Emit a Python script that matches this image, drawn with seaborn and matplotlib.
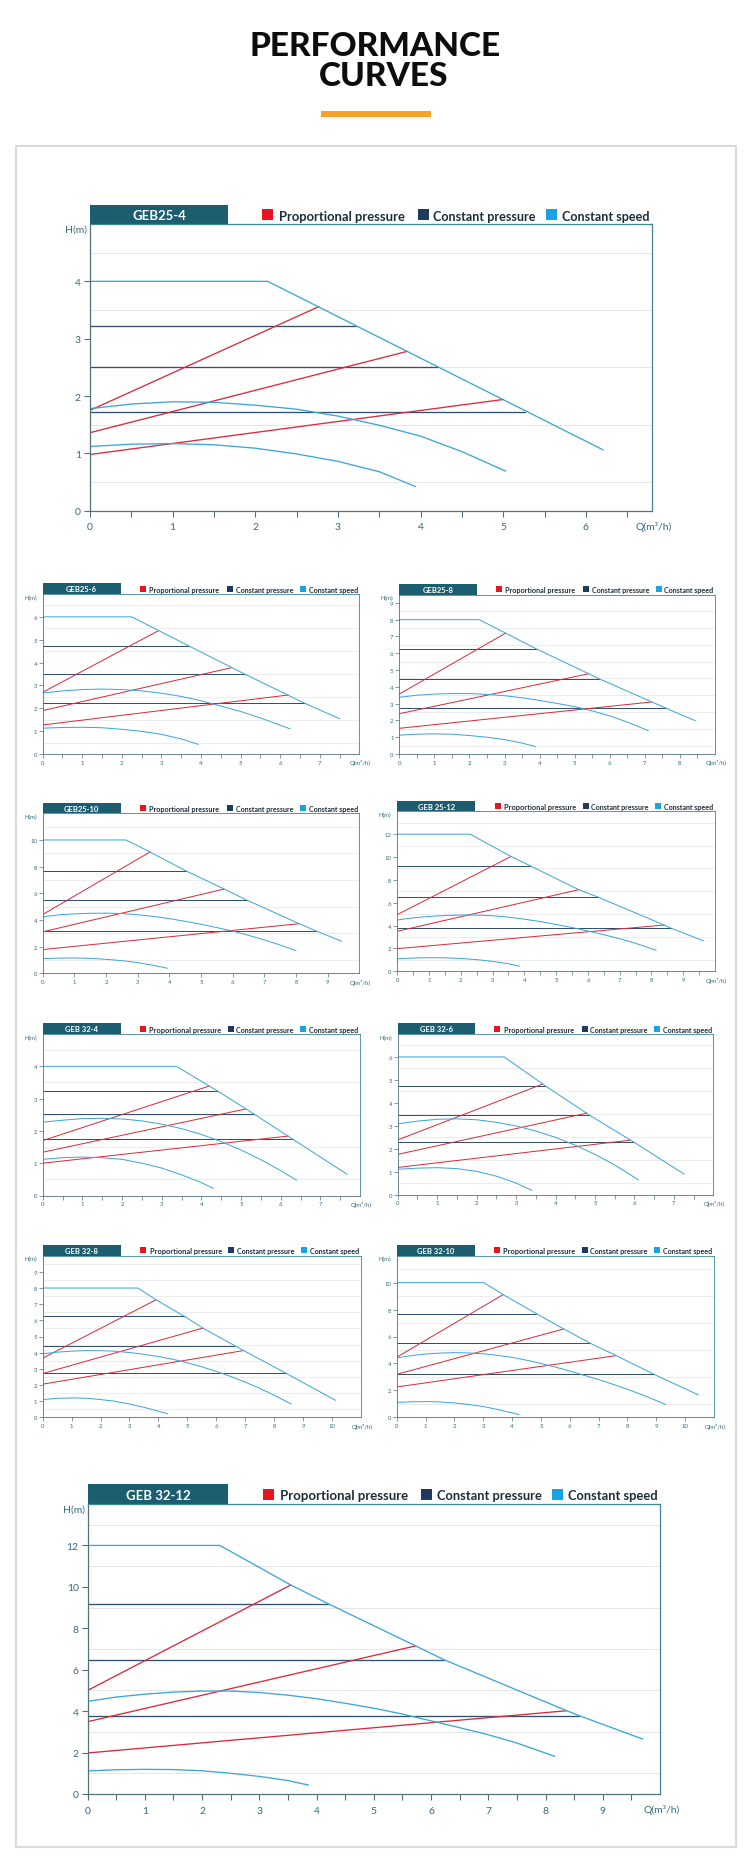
import numpy as np
import pandas as pd
import matplotlib
matplotlib.use("Agg")
import matplotlib.pyplot as plt
from matplotlib.patches import Rectangle
from matplotlib.ticker import FixedLocator
import seaborn as sns

# ------------------------------------------------------------------ data
TITLES = ["GEB25-4", "GEB25-6", "GEB25-8", "GEB25-10", "GEB 25-12",
          "GEB 32-4", "GEB 32-6", "GEB 32-8", "GEB 32-10", "GEB 32-12"]
LEGEND_LABELS = ["Proportional pressure", "Constant pressure", "Constant speed"]
Y_LABEL = "H(m)"
X_LABEL = "Q(m³/h)"

# GEB25-4
g25_4_max_q = [0, 2.15, 6.21]
g25_4_max_h = [4.0, 4.0, 1.06]
g25_4_mid_q = [0, 0.5, 1, 1.5, 2, 2.5, 3, 3.5, 4, 4.5, 5.03]
g25_4_mid_h = [1.78, 1.86, 1.90, 1.89, 1.84, 1.77, 1.65, 1.49, 1.30, 1.03, 0.69]
g25_4_low_q = [0, 0.5, 1, 1.5, 2, 2.5, 3, 3.5, 3.94]
g25_4_low_h = [1.12, 1.16, 1.17, 1.15, 1.09, 0.99, 0.86, 0.68, 0.42]
g25_4_cp_h = [3.22, 2.50, 1.72]
g25_4_cp_q = [3.22, 4.20, 5.26]
g25_4_pp_h0 = [1.75, 1.36, 0.98]
g25_4_pp_q1 = [2.77, 3.84, 5.00]
g25_4_pp_h1 = [3.56, 2.78, 1.94]

# GEB25-6
g25_6_max_q = [0, 2.25, 3.69, 5.1, 6.62, 7.51]
g25_6_max_h = [6, 6, 4.73, 3.5, 2.22, 1.54]
g25_6_mid_q = [0, 0.5, 1, 1.5, 2, 2.5, 3, 3.5, 4, 4.5, 5, 5.5, 6.25]
g25_6_mid_h = [2.67, 2.76, 2.82, 2.84, 2.82, 2.76, 2.66, 2.52, 2.33, 2.10, 1.86, 1.58, 1.10]
g25_6_low_q = [0, 0.5, 1, 1.5, 2, 2.5, 3, 3.5, 3.93]
g25_6_low_h = [1.13, 1.16, 1.17, 1.15, 1.08, 0.99, 0.86, 0.66, 0.42]
g25_6_cp_h = [4.73, 3.50, 2.22]
g25_6_cp_q = [3.69, 5.10, 6.62]
g25_6_pp_h0 = [2.70, 1.90, 1.27]
g25_6_pp_q1 = [2.93, 4.78, 6.20]
g25_6_pp_h1 = [5.40, 3.78, 2.58]

# GEB25-8
g25_8_max_q = [0, 2.28, 3.9, 5.7, 7.6, 8.44]
g25_8_max_h = [8, 8, 6.27, 4.48, 2.73, 1.98]
g25_8_mid_q = [0, 0.5, 1, 1.5, 2, 2.5, 3, 3.5, 4, 4.5, 5, 5.5, 6, 6.5, 7.1]
g25_8_mid_h = [3.38, 3.50, 3.57, 3.60, 3.60, 3.55, 3.47, 3.35, 3.19, 3.01, 2.82, 2.57, 2.27, 1.90, 1.39]
g25_8_low_q = [0, 0.5, 1, 1.5, 2, 2.5, 3, 3.5, 3.89]
g25_8_low_h = [1.12, 1.18, 1.20, 1.18, 1.10, 1.00, 0.86, 0.65, 0.44]
g25_8_cp_h = [6.27, 4.48, 2.73]
g25_8_cp_q = [3.90, 5.70, 7.60]
g25_8_pp_h0 = [3.57, 2.40, 1.53]
g25_8_pp_q1 = [3.03, 5.40, 7.20]
g25_8_pp_h1 = [7.20, 4.78, 3.10]

# GEB25-10
g25_10_max_q = [0, 2.63, 3.39, 4.52, 5.73, 6.44, 8.1, 8.63, 9.44]
g25_10_max_h = [10, 10, 9.1, 7.69, 6.32, 5.5, 3.72, 3.18, 2.41]
g25_10_mid_q = [0, 0.5, 1, 1.5, 2, 2.5, 3, 3.5, 4, 4.5, 5, 5.5, 6, 6.5, 7, 7.5, 8]
g25_10_mid_h = [4.24, 4.38, 4.46, 4.50, 4.51, 4.48, 4.39, 4.27, 4.10, 3.90, 3.68, 3.43, 3.16, 2.85, 2.50, 2.12, 1.70]
g25_10_low_q = [0, 0.5, 1, 1.5, 2, 2.5, 3, 3.5, 3.94]
g25_10_low_h = [1.10, 1.14, 1.15, 1.12, 1.05, 0.95, 0.80, 0.60, 0.38]
g25_10_cp_h = [7.69, 5.50, 3.18]
g25_10_cp_q = [4.52, 6.44, 8.63]
g25_10_pp_h0 = [4.41, 3.11, 1.78]
g25_10_pp_q1 = [3.39, 5.73, 8.10]
g25_10_pp_h1 = [9.10, 6.32, 3.72]

# GEB 25-12
g25_12_max_q = [0, 2.29, 3.58, 4.2, 5.71, 6.31, 8.4, 8.6, 9.65]
g25_12_max_h = [12, 12, 10.05, 9.21, 7.14, 6.5, 4.05, 3.79, 2.65]
g25_12_mid_q = [0, 0.5, 1, 1.5, 2, 2.5, 3, 3.5, 4, 4.5, 5, 5.5, 6, 6.5, 7, 7.5, 8.15]
g25_12_mid_h = [4.49, 4.68, 4.80, 4.88, 4.92, 4.92, 4.86, 4.74, 4.56, 4.35, 4.10, 3.83, 3.53, 3.20, 2.85, 2.45, 1.84]
g25_12_low_q = [0, 0.5, 1, 1.5, 2, 2.5, 3, 3.5, 3.85]
g25_12_low_h = [1.10, 1.16, 1.19, 1.18, 1.12, 1.02, 0.87, 0.66, 0.45]
g25_12_cp_h = [9.21, 6.50, 3.79]
g25_12_cp_q = [4.20, 6.31, 8.60]
g25_12_pp_h0 = [4.96, 3.50, 1.98]
g25_12_pp_q1 = [3.58, 5.71, 8.40]
g25_12_pp_h1 = [10.05, 7.14, 4.05]

# GEB 32-4
g32_4_max_q = [0, 3.37, 4.43, 5.33, 6.31, 7.67]
g32_4_max_h = [4, 4, 3.22, 2.52, 1.74, 0.66]
g32_4_mid_q = [0, 0.5, 1, 1.5, 2, 2.5, 3, 3.5, 4, 4.5, 5, 5.5, 6, 6.4]
g32_4_mid_h = [2.27, 2.33, 2.38, 2.39, 2.37, 2.31, 2.21, 2.07, 1.89, 1.67, 1.41, 1.11, 0.77, 0.47]
g32_4_low_q = [0, 0.5, 1, 1.5, 2, 2.5, 3, 3.5, 4, 4.3]
g32_4_low_h = [1.12, 1.17, 1.19, 1.17, 1.12, 1.00, 0.85, 0.64, 0.40, 0.22]
g32_4_cp_h = [3.22, 2.52, 1.74]
g32_4_cp_q = [4.43, 5.33, 6.31]
g32_4_pp_h0 = [1.70, 1.34, 1.00]
g32_4_pp_q1 = [4.20, 5.12, 6.19]
g32_4_pp_h1 = [3.39, 2.68, 1.84]

# GEB 32-6
g32_6_max_q = [0, 2.7, 3.75, 4.87, 5.99, 7.26]
g32_6_max_h = [6, 6, 4.73, 3.45, 2.28, 0.89]
g32_6_mid_q = [0, 0.5, 1, 1.5, 2, 2.5, 3, 3.5, 4, 4.5, 5, 5.5, 6.1]
g32_6_mid_h = [3.08, 3.20, 3.28, 3.30, 3.26, 3.15, 2.99, 2.77, 2.49, 2.15, 1.75, 1.29, 0.64]
g32_6_low_q = [0, 0.5, 1, 1.5, 2, 2.5, 3, 3.4]
g32_6_low_h = [1.10, 1.15, 1.17, 1.13, 1.01, 0.80, 0.50, 0.18]
g32_6_cp_h = [4.73, 3.45, 2.28]
g32_6_cp_q = [3.75, 4.87, 5.99]
g32_6_pp_h0 = [2.38, 1.75, 1.18]
g32_6_pp_q1 = [3.68, 4.80, 5.90]
g32_6_pp_h1 = [4.82, 3.55, 2.37]

# GEB 32-8
g32_8_max_q = [0, 3.29, 3.92, 4.91, 5.54, 6.95, 8.41, 10.13]
g32_8_max_h = [8, 8, 7.27, 6.24, 5.52, 4.13, 2.73, 1.05]
g32_8_mid_q = [0, 0.5, 1, 1.5, 2, 2.5, 3, 3.5, 4, 4.5, 5, 5.5, 6, 6.5, 7, 7.5, 8, 8.6]
g32_8_mid_h = [3.93, 4.03, 4.09, 4.13, 4.12, 4.09, 4.01, 3.90, 3.76, 3.59, 3.37, 3.13, 2.84, 2.53, 2.18, 1.80, 1.37, 0.82]
g32_8_low_q = [0, 0.5, 1, 1.5, 2, 2.5, 3, 3.5, 4, 4.32]
g32_8_low_h = [1.10, 1.17, 1.20, 1.18, 1.10, 0.99, 0.82, 0.62, 0.38, 0.22]
g32_8_cp_h = [6.24, 4.44, 2.73]
g32_8_cp_q = [4.91, 6.63, 8.41]
g32_8_pp_h0 = [3.66, 2.71, 2.05]
g32_8_pp_q1 = [3.92, 5.54, 6.95]
g32_8_pp_h1 = [7.27, 5.52, 4.13]

# GEB 32-10
g32_10_max_q = [0, 3.02, 3.69, 4.84, 5.79, 6.71, 7.61, 8.92, 10.46]
g32_10_max_h = [10, 10, 9.11, 7.7, 6.56, 5.5, 4.58, 3.19, 1.66]
g32_10_mid_q = [0, 0.5, 1, 1.5, 2, 2.5, 3, 3.5, 4, 4.5, 5, 5.5, 6, 6.5, 7, 7.5, 8, 8.5, 9.34]
g32_10_mid_h = [4.41, 4.58, 4.70, 4.77, 4.80, 4.78, 4.72, 4.60, 4.45, 4.24, 4.00, 3.73, 3.43, 3.12, 2.80, 2.45, 2.08, 1.68, 0.94]
g32_10_low_q = [0, 0.5, 1, 1.5, 2, 2.5, 3, 3.5, 4, 4.24]
g32_10_low_h = [1.11, 1.15, 1.17, 1.14, 1.07, 0.95, 0.80, 0.58, 0.33, 0.20]
g32_10_cp_h = [7.70, 5.50, 3.19]
g32_10_cp_q = [4.84, 6.71, 8.92]
g32_10_pp_h0 = [4.46, 3.19, 2.25]
g32_10_pp_q1 = [3.69, 5.79, 7.61]
g32_10_pp_h1 = [9.11, 6.56, 4.58]

# GEB 32-12
g32_12_max_q = [0, 2.31, 3.55, 4.2, 5.73, 6.22, 8.37, 8.59, 9.7]
g32_12_max_h = [12, 12, 10.09, 9.19, 7.15, 6.49, 4.02, 3.78, 2.65]
g32_12_mid_q = [0, 0.5, 1, 1.5, 2, 2.5, 3, 3.5, 4, 4.5, 5, 5.5, 6, 6.5, 7, 7.5, 8.16]
g32_12_mid_h = [4.47, 4.68, 4.82, 4.92, 4.97, 4.97, 4.90, 4.77, 4.60, 4.38, 4.14, 3.86, 3.53, 3.20, 2.86, 2.46, 1.82]
g32_12_low_q = [0, 0.5, 1, 1.5, 2, 2.5, 3, 3.5, 3.86]
g32_12_low_h = [1.11, 1.17, 1.19, 1.18, 1.12, 1.00, 0.85, 0.65, 0.43]
g32_12_cp_h = [9.19, 6.49, 3.78]
g32_12_cp_q = [4.20, 6.22, 8.59]
g32_12_pp_h0 = [5.00, 3.49, 1.98]
g32_12_pp_q1 = [3.55, 5.73, 8.37]
g32_12_pp_h1 = [10.09, 7.15, 4.02]

CHART_DATA = {
    "GEB25-4": (g25_4_max_q, g25_4_max_h, g25_4_mid_q, g25_4_mid_h, g25_4_low_q, g25_4_low_h,
                g25_4_cp_h, g25_4_cp_q, g25_4_pp_h0, g25_4_pp_q1, g25_4_pp_h1),
    "GEB25-6": (g25_6_max_q, g25_6_max_h, g25_6_mid_q, g25_6_mid_h, g25_6_low_q, g25_6_low_h,
                g25_6_cp_h, g25_6_cp_q, g25_6_pp_h0, g25_6_pp_q1, g25_6_pp_h1),
    "GEB25-8": (g25_8_max_q, g25_8_max_h, g25_8_mid_q, g25_8_mid_h, g25_8_low_q, g25_8_low_h,
                g25_8_cp_h, g25_8_cp_q, g25_8_pp_h0, g25_8_pp_q1, g25_8_pp_h1),
    "GEB25-10": (g25_10_max_q, g25_10_max_h, g25_10_mid_q, g25_10_mid_h, g25_10_low_q, g25_10_low_h,
                 g25_10_cp_h, g25_10_cp_q, g25_10_pp_h0, g25_10_pp_q1, g25_10_pp_h1),
    "GEB 25-12": (g25_12_max_q, g25_12_max_h, g25_12_mid_q, g25_12_mid_h, g25_12_low_q, g25_12_low_h,
                  g25_12_cp_h, g25_12_cp_q, g25_12_pp_h0, g25_12_pp_q1, g25_12_pp_h1),
    "GEB 32-4": (g32_4_max_q, g32_4_max_h, g32_4_mid_q, g32_4_mid_h, g32_4_low_q, g32_4_low_h,
                 g32_4_cp_h, g32_4_cp_q, g32_4_pp_h0, g32_4_pp_q1, g32_4_pp_h1),
    "GEB 32-6": (g32_6_max_q, g32_6_max_h, g32_6_mid_q, g32_6_mid_h, g32_6_low_q, g32_6_low_h,
                 g32_6_cp_h, g32_6_cp_q, g32_6_pp_h0, g32_6_pp_q1, g32_6_pp_h1),
    "GEB 32-8": (g32_8_max_q, g32_8_max_h, g32_8_mid_q, g32_8_mid_h, g32_8_low_q, g32_8_low_h,
                 g32_8_cp_h, g32_8_cp_q, g32_8_pp_h0, g32_8_pp_q1, g32_8_pp_h1),
    "GEB 32-10": (g32_10_max_q, g32_10_max_h, g32_10_mid_q, g32_10_mid_h, g32_10_low_q, g32_10_low_h,
                  g32_10_cp_h, g32_10_cp_q, g32_10_pp_h0, g32_10_pp_q1, g32_10_pp_h1),
    "GEB 32-12": (g32_12_max_q, g32_12_max_h, g32_12_mid_q, g32_12_mid_h, g32_12_low_q, g32_12_low_h,
                  g32_12_cp_h, g32_12_cp_q, g32_12_pp_h0, g32_12_pp_q1, g32_12_pp_h1),
}

# ------------------------------------------------------------------ axis scales
# (xmax, ymax, y label step, last y label, last x label, x tick step, x grid step, y grid step)
AXIS_CFG = {
    "GEB25-4":  (6.8, 5, 1, 4, 6, 0.5, 0.5, 0.5),
    "GEB25-6":  (8, 7, 1, 6, 7, 0.5, 0.5, 0.5),
    "GEB25-8":  (9, 9.5, 1, 9, 8, 0.5, 0.5, 0.5),
    "GEB25-10": (10, 12, 2, 10, 9, 1, 1, 1),
    "GEB 25-12": (10, 14, 2, 12, 9, 0.5, 0.5, 1),
    "GEB 32-4": (8, 5, 1, 4, 7, 0.5, 0.5, 0.5),
    "GEB 32-6": (8, 7, 1, 6, 7, 0.5, 0.5, 0.5),
    "GEB 32-8": (11, 10, 1, 9, 10, 1, 1, 0.5),
    "GEB 32-10": (11, 12, 2, 10, 10, 1, 1, 1),
    "GEB 32-12": (10, 14, 2, 12, 9, 0.5, 0.5, 1),
}

# ------------------------------------------------------------------ layout (pixels)
W, H = 750, 1865
# left, top, right, bottom, header height
BOXES = {
    "GEB25-4":  (90.0, 225.0, 652.0, 511.7, 19.0),
    "GEB25-6":  (42.7, 595.0, 359.3, 755.0, 11.0),
    "GEB25-8":  (399.3, 595.5, 715.0, 755.0, 11.0),
    "GEB25-10": (42.7, 814.3, 359.3, 974.3, 10.5),
    "GEB 25-12": (397.3, 812.3, 715.0, 972.3, 10.5),
    "GEB 32-4": (42.7, 1035.0, 360.0, 1196.5, 11.0),
    "GEB 32-6": (397.7, 1035.0, 713.3, 1195.5, 11.0),
    "GEB 32-8": (42.7, 1256.7, 360.7, 1418.3, 10.7),
    "GEB 32-10": (396.7, 1256.7, 714.0, 1418.3, 10.7),
    "GEB 32-12": (87.6, 1505.0, 660.0, 1795.0, 20.0),
}
BIG = {"GEB25-4", "GEB 32-12"}

C_PROP = "#d92b3a"
C_CONST = "#35506c"
C_SPEED = "#3ca6d9"
C_SQ = ["#e8141f", "#1c3b5e", "#1aa3e3"]
C_HEAD = "#1c5e6f"
C_GRID = "#e6e6e6"
C_SPINE_TR = "#3d8799"
C_SPINE_LB = "#52707d"
C_TICK = "#356b7c"

sns.set_theme(style="white")
plt.rcParams["font.family"] = ["Lato", "DejaVu Sans"]

fig = plt.figure(figsize=(W / 100, H / 100), dpi=100)
fig.patch.set_facecolor("white")


def fx(x):
    return x / W


def fy(y):
    return 1 - y / H


# outer frame and title
fig.patches.append(Rectangle((fx(16), fy(1848)), fx(736) - fx(16), fy(146.7) - fy(1848),
                             transform=fig.transFigure, fill=False, ec="#dadada", lw=1.5))
fig.patches.append(Rectangle((fx(321), fy(118)), fx(431) - fx(321), fy(112) - fy(118),
                             transform=fig.transFigure, fc="#f5a22c", ec="none"))
t1 = fig.text(fx(375), fy(56), "PERFORMANCE", ha="center", va="baseline",
              fontsize=25, fontweight="black", color="#0d0d0d")
t2 = fig.text(fx(384), fy(86), "CURVES", ha="center", va="baseline",
              fontsize=25, fontweight="black", color="#0d0d0d")

renderer = fig.canvas.get_renderer()


def fit_width(t, target_px):
    bb = t.get_window_extent(renderer)
    if bb.width > 0:
        t.set_fontsize(t.get_fontsize() * target_px / bb.width)


fit_width(t1, 252)
t2.set_fontsize(t1.get_fontsize())


def chart_frame(max_q, max_h, mid_q, mid_h, low_q, low_h, cp_h, cp_q, pp_h0, pp_q1, pp_h1):
    rows = []
    for name, qs, hs in (("max", max_q, max_h), ("mid", mid_q, mid_h), ("low", low_q, low_h)):
        for q, h in zip(qs, hs):
            rows.append(("speed", "s-" + name, q, h))
    for i, (h, q) in enumerate(zip(cp_h, cp_q)):
        rows.append(("const", f"c{i}", 0.0, h))
        rows.append(("const", f"c{i}", q, h))
    for i, (h0, q1, h1) in enumerate(zip(pp_h0, pp_q1, pp_h1)):
        rows.append(("prop", f"p{i}", 0.0, h0))
        rows.append(("prop", f"p{i}", q1, h1))
    return pd.DataFrame(rows, columns=["kind", "line", "q", "h"])


for title in TITLES:
    l, t, r, b, hh = BOXES[title]
    big = title in BIG
    axw, axh = r - l, b - t
    ax = fig.add_axes([fx(l), fy(b), (r - l) / W, (b - t) / H])
    ax.set_facecolor("white")
    df = chart_frame(*CHART_DATA[title])
    lw = 0.95 if big else 0.72
    for kind, col in (("const", C_CONST), ("prop", C_PROP), ("speed", C_SPEED)):
        sub = df[df["kind"] == kind]
        sns.lineplot(data=sub, x="q", y="h", units="line", estimator=None, sort=False,
                     color=col, lw=lw, ax=ax, legend=False)
    ax.set_xlabel("")
    ax.set_ylabel("")

    xmax, ymax, ystep, ylabmax, xlabmax, xtick, gx, gy = AXIS_CFG[title]
    ax.set_xlim(0, xmax)
    ax.set_ylim(0, ymax)
    xt = np.arange(0, xmax - 1e-6, xtick)
    ax.set_xticks(xt)
    ax.set_xticklabels([str(int(round(v))) if abs(v - round(v)) < 1e-6 and v <= xlabmax + 1e-6 else ""
                        for v in xt])
    yt = np.arange(0, ylabmax + 1e-6, ystep)
    ax.set_yticks(yt)
    ax.set_yticklabels([str(int(round(v))) for v in yt])
    ax.xaxis.set_minor_locator(FixedLocator(np.arange(gx, xmax - 1e-6, gx)))
    ax.yaxis.set_minor_locator(FixedLocator(np.arange(gy, ymax - 1e-6, gy)))
    ax.grid(False)
    ax.grid(True, which="minor", color=C_GRID, lw=0.7 if big else 0.5)
    ax.set_axisbelow(True)
    fs = 7.5 if big else 4.3
    tl = 4.3 if big else 2.6
    ax.tick_params(which="minor", length=0, bottom=False, left=False)
    ax.tick_params(which="major", direction="out", length=tl, width=0.8 if big else 0.5,
                   color=C_SPINE_LB, labelcolor=C_TICK, labelsize=fs,
                   bottom=True, left=True, top=False, right=False)
    ax.tick_params(axis="x", pad=4.0 if big else 1.6)
    ax.tick_params(axis="y", pad=2.2 if big else 1.5)
    slw = 0.9 if big else 0.6
    for side in ("top", "right"):
        ax.spines[side].set_color(C_SPINE_TR)
        ax.spines[side].set_linewidth(slw)
        ax.spines[side].set_visible(True)
    for side in ("left", "bottom"):
        ax.spines[side].set_color(C_SPINE_LB)
        ax.spines[side].set_linewidth(slw)
        ax.spines[side].set_visible(True)

    # axis names
    ax.text(-(3 if big else 6) / axw, 1.0 - (1 if big else 0.5) / axh, Y_LABEL, transform=ax.transAxes,
            ha="right", va="top", fontsize=fs, color=C_TICK)
    ax.text(0.971, -(15.5 if big else 8.3) / axh, X_LABEL, transform=ax.transAxes,
            ha="left", va="center", fontsize=fs, color=C_TICK)

    # header box with model name
    hw = 0.246
    ax.add_patch(Rectangle((0, 1), hw, hh / axh, transform=ax.transAxes, clip_on=False,
                           fc=C_HEAD, ec="none"))
    hfs = 9.5 if big else 5.5
    cap = 0.72 * hfs * 100 / 72
    ax.text(hw / 2, 1 + (hh - cap) / 2 / axh, title, transform=ax.transAxes, ha="center",
            va="baseline", color="white", fontweight="bold", fontsize=hfs, clip_on=False)

    # legend
    sq = 11.0 if big else 6.0
    sq_x = [0.306, 0.583, 0.812]
    tx_x = [0.336, 0.610, 0.840]
    tw = [0.224, 0.184, 0.157]
    for i, lab in enumerate(LEGEND_LABELS):
        ax.add_patch(Rectangle((sq_x[i], 1 + (hh - sq) / 2 / axh), sq / axw, sq / axh,
                               transform=ax.transAxes, clip_on=False, fc=C_SQ[i], ec="none"))
        lt = ax.text(tx_x[i], 1 + (hh - sq) / 2 / axh, lab, transform=ax.transAxes,
                     ha="left", va="baseline", fontweight="bold", fontsize=8 if big else 4.5,
                     color="#1e2d3a", clip_on=False)
        fit_width(lt, tw[i] * axw)

fig.savefig("out.png", dpi=100, facecolor="white")
